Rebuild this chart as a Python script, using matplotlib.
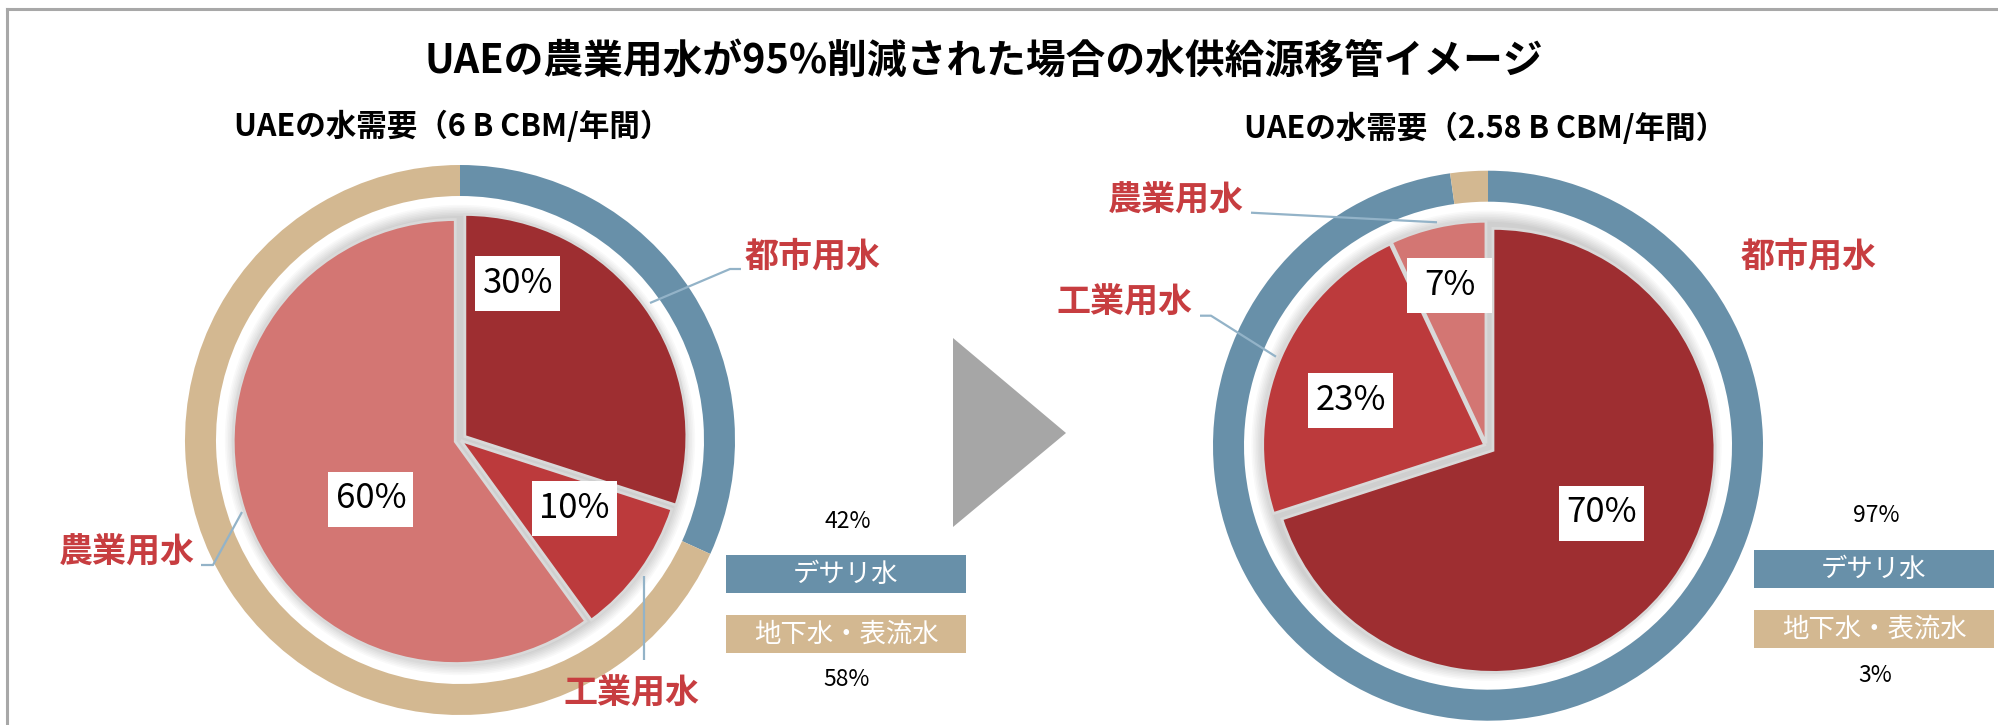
import matplotlib
matplotlib.use("Agg")
import matplotlib.pyplot as plt
from matplotlib.patches import Rectangle, Circle, Polygon
from matplotlib.lines import Line2D

plt.rcParams['font.family'] = ['Noto Sans CJK JP', 'DejaVu Sans']

# ---------------- data ----------------
title = "UAEの農業用水が95%削減された場合の水供給源移管イメージ"
left_title = "UAEの水需要（6 B CBM/年間）"
right_title = "UAEの水需要（2.58 B CBM/年間）"

categories = ["都市用水", "工業用水", "農業用水"]
left_shares = [30, 10, 60]
right_shares = [70, 23, 7]

supply_labels = ["デサリ水", "地下水・表流水"]
left_supply_pct = [42, 58]
right_supply_pct = [97, 3]
# outer ring shares as drawn in the picture
left_ring = [31.8, 68.2]
right_ring = [97.8, 2.2]

# ---------------- style ----------------
W, H = 1999, 725
DARK, MID, LIGHT = "#9E2E31", "#BC3A3C", "#D37673"
BLUE, TAN = "#6890A9", "#D3B891"
RED_TXT = "#C73D40"
LEADER = "#93B3C8"

fig = plt.figure(figsize=(W / 100, H / 100), dpi=100)
ax = fig.add_axes([0, 0, 1, 1])


def Y(y):
    return H - y


R_PIE = 222
R_RING = 275
RING_W = 31


def draw_chart(cx, cy, rcx, rcy, shares, explode_px, ring):
    c = (cx, Y(cy))
    # soft shadow behind the pie
    for i in range(8):
        ax.add_patch(Circle(c, R_PIE + 2 + i * 1.6, color="k", alpha=0.022,
                            lw=0, zorder=1))
    wedges, _ = ax.pie(shares, colors=[DARK, MID, LIGHT], radius=R_PIE,
                       center=c, startangle=90, counterclock=False,
                       explode=explode_px,
                       wedgeprops=dict(edgecolor="#d9d9d9", linewidth=2.0))
    for w in wedges:
        w.set_zorder(2)
    rw, _ = ax.pie(ring, colors=[BLUE, TAN], radius=R_RING,
                   center=(rcx, Y(rcy)), startangle=90, counterclock=False,
                   wedgeprops=dict(width=RING_W, linewidth=0))
    for w in rw:
        w.set_zorder(2)


draw_chart(460, 440, 460, 440, left_shares, [6, 1, 5], left_ring)
draw_chart(1486.5, 445.7, 1488, 445.7, right_shares, [8, 2, 2.5], right_ring)

ax.set_xlim(0, W)
ax.set_ylim(0, H)
ax.set_aspect("equal")
ax.axis("off")


def pct_label(x, y, v):
    ax.add_patch(Rectangle((x - 42.5, Y(y) - 27.5), 85, 55, fc="white",
                           ec="none", zorder=4))
    ax.text(x, Y(y), f"{v}%", ha="center", va="center", fontsize=25,
            color="black", zorder=5)


# percentage labels inside pies
for (x, y), v in zip([(518, 283), (574.5, 508.5), (371, 499)], left_shares):
    pct_label(x, y, v)
for (x, y), v in zip([(1602, 513), (1350.5, 400), (1449.5, 285.5)], right_shares):
    pct_label(x, y, v)

# category labels (red)
lab_kw = dict(fontsize=24.5, fontweight="bold", color=RED_TXT, va="center", zorder=6)
ax.text(745, Y(256), categories[0], ha="left", **lab_kw)
ax.text(631, Y(693), categories[1], ha="center", **lab_kw)
ax.text(195, Y(552), categories[2], ha="right", **lab_kw)
ax.text(1741, Y(256), categories[0], ha="left", **lab_kw)
ax.text(1192, Y(302), categories[1], ha="right", **lab_kw)
ax.text(1244, Y(200), categories[2], ha="right", **lab_kw)

# leader lines
leaders = [
    ([650, 730, 741], [303, 269, 269]),
    ([644, 644], [576, 660]),
    ([201, 213, 242], [565, 565, 512]),
    ([1251, 1437], [212.7, 222.3]),
    ([1200, 1211, 1276], [315.7, 315.7, 356.7]),
]
for xs, ys in leaders:
    ax.plot(xs, [Y(v) for v in ys], color=LEADER, lw=1.6, zorder=6,
            solid_capstyle="butt")

# legend boxes
def legend(x0, blue_y, tan_y, pcts, pct_y):
    for (y0, col, lab) in [(blue_y, BLUE, supply_labels[0]),
                           (tan_y, TAN, supply_labels[1])]:
        ax.add_patch(Rectangle((x0, Y(y0 + 38)), 240, 38, fc=col, ec="none",
                               zorder=3))
        ax.text(x0 + 120, Y(y0 + 19), lab, ha="center", va="center",
                fontsize=19, color="white", zorder=4)
    ax.text(x0 + 122, Y(pct_y[0]), f"{pcts[0]}%", ha="center", va="center",
            fontsize=16.5, color="black")
    ax.text(x0 + 121, Y(pct_y[1]), f"{pcts[1]}%", ha="center", va="center",
            fontsize=16.5, color="black")


legend(726, 555, 615, left_supply_pct, (521, 680))
legend(1754, 550, 610, right_supply_pct, (515, 675))

# arrow triangle
ax.add_patch(Polygon([(953, Y(338)), (953, Y(527)), (1066, Y(433))],
                     closed=True, fc="#A6A6A6", ec="none", zorder=2))

# titles
ax.text(984, Y(61), title, ha="center", va="center", fontsize=28.6,
        fontweight="bold", color="black")
ax.text(452, Y(127), left_title, ha="center", va="center", fontsize=22,
        fontweight="bold", color="black")
ax.text(1485, Y(129), right_title, ha="center", va="center", fontsize=22,
        fontweight="bold", color="black")

# page frame lines
fig.add_artist(Line2D([7 / W, 1], [1 - 9 / H, 1 - 9 / H], color="#A8A8A8",
                      lw=2.2, transform=fig.transFigure))
fig.add_artist(Line2D([7 / W, 7 / W], [0, 1 - 9 / H], color="#A8A8A8",
                      lw=2.2, transform=fig.transFigure))

fig.savefig("out.png", dpi=100, facecolor="white")
